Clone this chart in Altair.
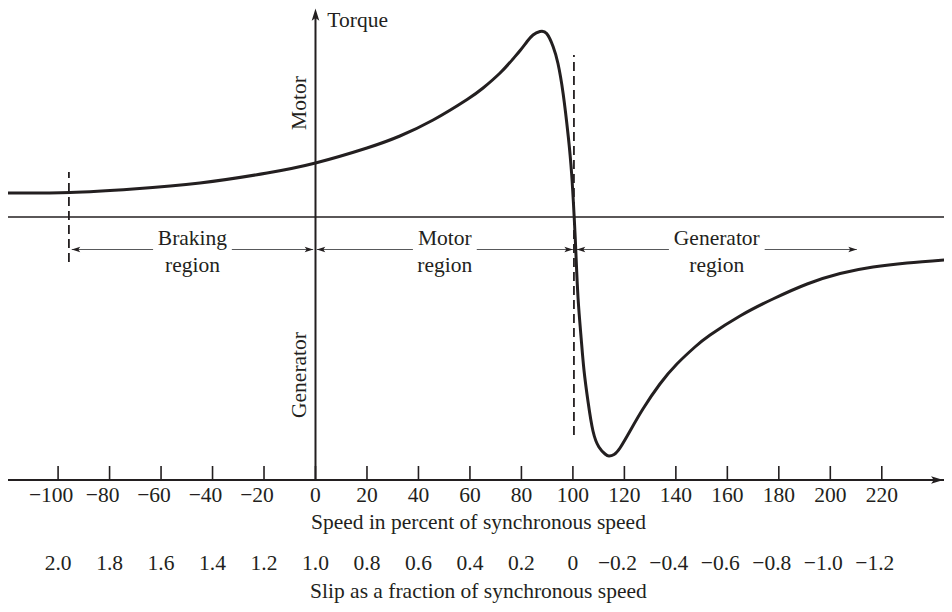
import altair as alt
import pandas as pd

# ---------------- values ----------------
# torque-speed curve (speed in % of synchronous speed, torque in arbitrary units)
curve_speed = [-119.5, -95.4, -70.9, -44.9, -18.8, 0.0, 20.0, 32.8, 45.7, 58.9, 65.1, 71.7,
               76.7, 79.5, 82.2, 84.5, 87.2, 89.8, 92.3, 94.2, 96.2, 98.2, 99.5, 100.5,
               101.2, 102.0, 103.2, 104.3, 105.9, 107.8, 110.1, 112.5, 114.0, 116.0, 118.3,
               122.2, 127.2, 133.8, 140.4, 147.4, 153.3, 164.9, 177.7, 191.0, 203.8, 216.6,
               229.8, 244.2]
curve_torque = [0.48, 0.49, 0.56, 0.68, 0.88, 1.08, 1.38, 1.62, 1.94, 2.35, 2.58, 2.88,
                3.16, 3.33, 3.51, 3.64, 3.71, 3.67, 3.41, 3.07, 2.47, 1.61, 0.87, 0.0,
                -0.76, -1.62, -2.42, -3.06, -3.70, -4.28, -4.60, -4.74, -4.78, -4.75, -4.62,
                -4.28, -3.84, -3.34, -2.94, -2.60, -2.36, -1.98, -1.64, -1.34, -1.13, -1.00,
                -0.92, -0.86]

speed_ticks = [-100, -80, -60, -40, -20, 0, 20, 40, 60, 80, 100, 120, 140, 160, 180, 200, 220]
speed_tick_labels = ["\u2212100", "\u221280", "\u221260", "\u221240", "\u221220", "0", "20", "40",
                     "60", "80", "100", "120", "140", "160", "180", "200", "220"]
slip_ticks = [2.0, 1.8, 1.6, 1.4, 1.2, 1.0, 0.8, 0.6, 0.4, 0.2, 0.0,
              -0.2, -0.4, -0.6, -0.8, -1.0, -1.2]
slip_tick_labels = ["2.0", "1.8", "1.6", "1.4", "1.2", "1.0", "0.8", "0.6", "0.4", "0.2", "0",
                    "\u22120.2", "\u22120.4", "\u22120.6", "\u22120.8", "\u22121.0", "\u22121.2"]

region_top = ["Braking", "Motor", "Generator"]
region_bottom = ["region", "region", "region"]
region_left = [-94.7, 0.5, 101.5]     # left arrow tips (speed)
region_right = [-0.9, 100.0, 210.3]   # right arrow tips (speed)
region_gap = [15.3, 12.4, 18.6]       # half gap around label (speed units)

dash_speed = [-95.8, 100.4]
dash_top = [0.90, 3.24]
dash_bottom = [-0.90, -4.36]

speed_title = "Speed in percent of synchronous speed"
slip_title = "Slip as a fraction of synchronous speed"

# ---------------- layout constants ----------------
INK = "#231f20"
FONT = "Liberation Serif"
FS = 21.5
AXIS_T = -5.26      # torque value where the speed axis sits
TICK_TOP = -4.98
V_TOP = 4.0
X = alt.Scale(domain=[-119.46, 244.17], nice=False, zero=False)
Y = alt.Scale(domain=[-7.74, 4.18], nice=False, zero=False)
ARROW = "M0,0L-2,-0.62L-1.55,0L-2,0.62Z"


def xq(f):
    return alt.X(f, type="quantitative", scale=X, axis=None)


def yq(f):
    return alt.Y(f, type="quantitative", scale=Y, axis=None)


# zero torque line and speed axis line
hlines = alt.Chart(pd.DataFrame({"t": [0.0]})).mark_rule(color=INK, strokeWidth=1.4).encode(y=yq("t"))
axis_line = alt.Chart(pd.DataFrame({"t": [AXIS_T]})).mark_rule(color=INK, strokeWidth=2).encode(y=yq("t"))
vaxis = alt.Chart(pd.DataFrame({"s": [0.0], "t": [AXIS_T], "t2": [V_TOP]})).mark_rule(
    color=INK, strokeWidth=2).encode(x=xq("s"), y=yq("t"), y2="t2")

ticks_df = pd.DataFrame({"s": speed_ticks, "t": AXIS_T, "t2": TICK_TOP})
ticks = alt.Chart(ticks_df).mark_rule(color=INK, strokeWidth=1.6).encode(x=xq("s"), y=yq("t"), y2="t2")

axis_heads = alt.Chart(pd.DataFrame({"s": [243.9, 0.0], "t": [AXIS_T, 4.17], "a": [0, 270]})).mark_point(
    shape=ARROW, filled=True, size=150, color=INK, opacity=1).encode(
    x=xq("s"), y=yq("t"), angle=alt.Angle("a:Q", scale=None))

curve = alt.Chart(pd.DataFrame({"s": curve_speed, "t": curve_torque})).mark_line(
    color=INK, strokeWidth=3, interpolate="natural").encode(x=xq("s"), y=yq("t"))

dashes = alt.Chart(pd.DataFrame({"s": dash_speed, "t": dash_bottom, "t2": dash_top})).mark_rule(
    color=INK, strokeWidth=1.8, strokeDash=[9, 5]).encode(x=xq("s"), y=yq("t"), y2="t2")

# region arrows
mid = [(a + b) / 2 for a, b in zip(region_left, region_right)]
seg_rows = []
for a, b, m, g in zip(region_left, region_right, mid, region_gap):
    seg_rows.append({"s": a, "s2": m - g})
    seg_rows.append({"s": m + g, "s2": b})
segs = alt.Chart(pd.DataFrame(seg_rows).assign(t=-0.65)).mark_rule(color="#58595b", strokeWidth=1.1).encode(
    x=xq("s"), x2="s2", y=yq("t"))
head_rows = [{"s": a, "a": 180} for a in region_left] + [{"s": b, "a": 0} for b in region_right]
heads = alt.Chart(pd.DataFrame(head_rows).assign(t=-0.65)).mark_point(
    shape=ARROW, filled=True, size=72, color=INK, opacity=1).encode(
    x=xq("s"), y=yq("t"), angle=alt.Angle("a:Q", scale=None))

reg_df = pd.DataFrame({"s": mid, "top": region_top, "bot": region_bottom})
txt = dict(font=FONT, fontSize=FS, color=INK, baseline="middle", align="center")
reg_top = alt.Chart(reg_df.assign(t=-0.43)).mark_text(**txt).encode(x=xq("s"), y=yq("t"), text="top")
reg_bot = alt.Chart(reg_df.assign(t=-0.98)).mark_text(**txt).encode(x=xq("s"), y=yq("t"), text="bot")

# tick labels
sp = pd.DataFrame({"s": speed_ticks, "lab": speed_tick_labels, "t": -5.586})
sp_pos = alt.Chart(sp[sp.s >= 0]).mark_text(**txt).encode(x=xq("s"), y=yq("t"), text="lab")
sp_neg = alt.Chart(sp[sp.s < 0]).mark_text(dx=-7, **txt).encode(x=xq("s"), y=yq("t"), text="lab")

sl = pd.DataFrame({"slip": slip_ticks, "lab": slip_tick_labels, "t": -6.946})
sl["s"] = [100 * (1 - v) for v in slip_ticks]
sl_pos = alt.Chart(sl[sl.slip >= 0]).mark_text(**txt).encode(x=xq("s"), y=yq("t"), text="lab")
sl_neg = alt.Chart(sl[sl.slip < 0]).mark_text(dx=-7, **txt).encode(x=xq("s"), y=yq("t"), text="lab")

titles = alt.Chart(pd.DataFrame({"s": [63.3, 63.3], "t": [-6.114, -7.50],
                                 "lab": [speed_title, slip_title]})).mark_text(**txt).encode(
    x=xq("s"), y=yq("t"), text="lab")

torque_lab = alt.Chart(pd.DataFrame({"s": [4.6], "t": [4.15], "lab": ["Torque"]})).mark_text(
    font=FONT, fontSize=FS, color=INK, baseline="top", align="left").encode(
    x=xq("s"), y=yq("t"), text="lab")

side = alt.Chart(pd.DataFrame({"s": [-5.9, -5.9], "t": [2.28, -3.16], "lab": ["Motor", "Generator"]})).mark_text(
    font=FONT, fontSize=FS, color=INK, baseline="middle", align="center", angle=270).encode(
    x=xq("s"), y=yq("t"), text="lab")

chart = alt.layer(
    hlines, axis_line, vaxis, ticks, axis_heads, dashes, segs, heads, curve,
    reg_top, reg_bot, sp_pos, sp_neg, sl_pos, sl_neg, titles, torque_lab, side
).properties(
    width=936, height=596, padding=0, background="white",
    autosize=alt.AutoSizeParams(type="none"),
).configure_view(stroke=None)

chart.save("out.html", embed_options={"renderer": "svg", "actions": False})
